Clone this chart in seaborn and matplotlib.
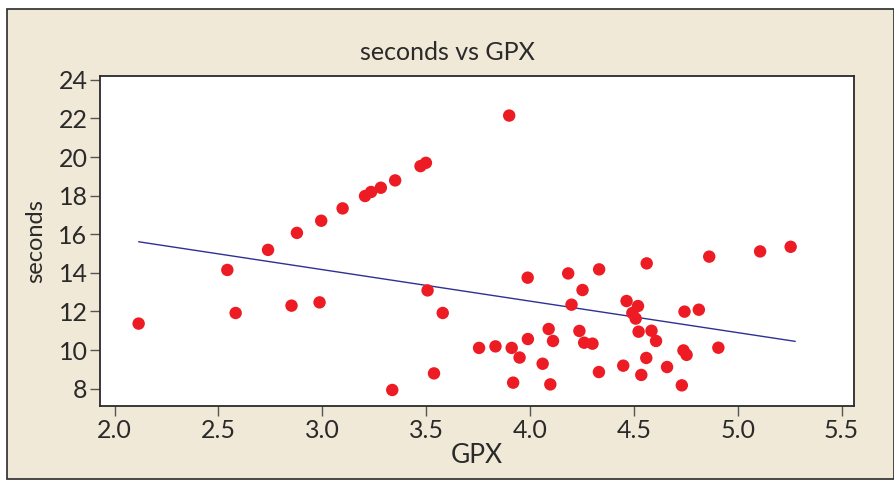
import matplotlib
matplotlib.use("Agg")
import matplotlib.pyplot as plt
import seaborn as sns
import pandas as pd
from matplotlib.patches import Rectangle

gpx = [2.116, 2.543, 2.583, 2.739, 2.852, 2.878, 2.987, 2.995, 3.098, 3.206,
       3.235, 3.282, 3.351, 3.473, 3.499, 3.337, 3.900, 3.507, 3.538, 3.580,
       3.755, 3.834, 3.912, 3.950, 3.919, 3.989, 3.990, 4.061, 4.090, 4.111,
       4.098, 4.184, 4.200, 4.253, 4.238, 4.261, 4.301, 4.333, 4.332, 4.449,
       4.465, 4.520, 4.493, 4.509, 4.523, 4.585, 4.607, 4.560, 4.536, 4.562,
       4.660, 4.731, 4.744, 4.813, 4.739, 4.754, 4.863, 4.907, 5.108, 5.255]
seconds = [11.37, 14.15, 11.92, 15.19, 12.30, 16.07, 12.47, 16.70, 17.34, 17.98,
           18.19, 18.41, 18.79, 19.53, 19.70, 7.93, 22.15, 13.09, 8.79, 11.92,
           10.11, 10.19, 10.11, 9.61, 8.31, 13.75, 10.57, 9.29, 11.09, 10.47,
           8.22, 13.97, 12.35, 13.11, 10.99, 10.38, 10.33, 14.18, 8.86, 9.19,
           12.54, 12.28, 11.92, 11.63, 10.95, 11.00, 10.47, 9.59, 8.71, 14.49,
           9.12, 8.17, 11.99, 12.09, 9.98, 9.75, 14.84, 10.12, 15.11, 15.35]
fit_gpx = [2.116, 5.277]
fit_seconds = [15.61, 10.45]

x_ticks = [2.0, 2.5, 3.0, 3.5, 4.0, 4.5, 5.0, 5.5]
y_ticks = [8, 10, 12, 14, 16, 18, 20, 22, 24]

sns.set_style("white")
plt.rcParams['font.family'] = ['Lato', 'DejaVu Sans']

W, H = 895, 480
fig = plt.figure(figsize=(W / 100, H / 100), dpi=100)
fig.patch.set_facecolor("white")
bg = "#F0E9D7"
fig.patches.append(Rectangle((7 / W, 1 / H), 887 / W, 470 / H, transform=fig.transFigure,
                             facecolor=bg, edgecolor="#2a2a2a", linewidth=1.2, zorder=-5))

ax = fig.add_axes([100 / W, 1 - 406 / H, 754 / W, 330 / H])
ax.set_zorder(5)
ax.set_facecolor("white")

df = pd.DataFrame({"GPX": gpx, "seconds": seconds})
fit = pd.DataFrame({"GPX": fit_gpx, "seconds": fit_seconds})

sns.lineplot(data=fit, x="GPX", y="seconds", ax=ax, color="#2E3192", linewidth=1.0, zorder=2)
sns.scatterplot(data=df, x="GPX", y="seconds", ax=ax, color="#ED1C24", s=80,
                edgecolor="none", zorder=3)

ax.set_xlim(1.93, 5.56)
ax.set_ylim(7.1, 24.2)
ax.set_xticks(x_ticks)
ax.set_xticklabels([f"{v:.1f}" for v in x_ticks])
ax.set_yticks(y_ticks)
ax.set_yticklabels([str(v) for v in y_ticks])

ax.tick_params(axis="both", which="major", direction="out", length=7, width=1,
               color="#555555", labelsize=18, labelcolor="#2a2a2a", pad=2)
ax.tick_params(axis="both", bottom=True, left=True)
for sp in ax.spines.values():
    sp.set_color("#2a2a2a")
    sp.set_linewidth(1.3)

ax.set_xlabel("GPX", fontsize=19, color="#2a2a2a", labelpad=1)
ax.set_ylabel("seconds", fontsize=17, color="#2a2a2a", labelpad=9)
fig.text(0.5, 1 - 52 / H, "seconds vs GPX", fontsize=18, color="#2a2a2a",
         ha="center", va="center")

fig.savefig("out.png", dpi=100, facecolor=fig.get_facecolor())
